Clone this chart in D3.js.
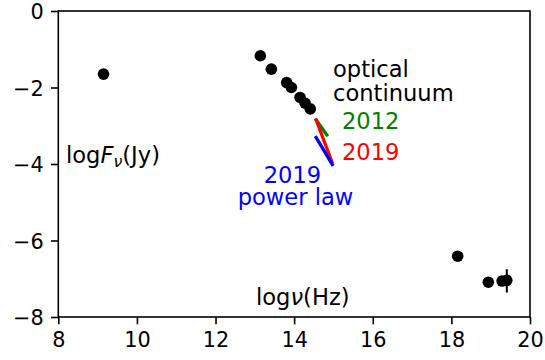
<!DOCTYPE html>
<html><head><meta charset="utf-8">
<script src="https://cdn.jsdelivr.net/npm/d3@7"></script>
<style>body{margin:0;background:#fff;} text{font-family:"DejaVu Sans",sans-serif;}</style>
</head><body>
<svg id="c" width="545" height="360"></svg>
<script>
// Data
const logNu = [9.15, 13.14, 13.42, 13.81, 13.93, 14.15, 14.28, 14.41, 18.16, 18.94, 19.29, 19.41];
const logF  = [-1.65, -1.17, -1.52, -1.87, -2.0, -2.26, -2.41, -2.56, -6.41, -7.09, -7.06, -7.04];
const errX = [19.41];
const errLo = [-7.36];
const errHi = [-6.75];
const line2012 = [[14.56, -2.85], [14.83, -3.24]];
const line2019 = [[14.56, -2.85], [14.96, -3.94]];
const linePL   = [[14.56, -3.31], [14.97, -4.01]];
const xTicks = [8, 10, 12, 14, 16, 18, 20];
const yTicks = [0, -2, -4, -6, -8];

const svg = d3.select("#c");
const L = 58.3, R = 530, T = 11, B = 317;
const x = d3.scaleLinear().domain([8, 20]).range([L, R]);
const y = d3.scaleLinear().domain([-8, 0]).range([B, T]);
const fs = 20.8, fa = 22.6, tick = 7.3, pad = 7.3;

// axes
const xAxis = d3.axisBottom(x).tickValues(xTicks).tickSize(tick).tickPadding(pad).tickFormat(d3.format("d"));
const yAxis = d3.axisLeft(y).tickValues(yTicks).tickSize(tick).tickPadding(pad).tickFormat(d => d < 0 ? "\u2212" + Math.abs(d) : String(d));
const gx = svg.append("g").attr("transform", `translate(0,${B})`).call(xAxis);
const gy = svg.append("g").attr("transform", `translate(${L},0)`).call(yAxis);
[gx, gy].forEach(g => {
  g.select(".domain").remove();
  g.selectAll("line").attr("stroke", "#000").attr("stroke-width", 1.6);
  g.selectAll("text").attr("font-size", fs).attr("fill", "#000").attr("font-family", "DejaVu Sans");
});
gx.selectAll("text").attr("dy", null).attr("y", tick + pad + 15.5).attr("dominant-baseline", null);
gy.selectAll("text").attr("dy", "0.36em");

svg.append("rect").attr("x", L).attr("y", T).attr("width", R - L).attr("height", B - T)
  .attr("fill", "none").attr("stroke", "#000").attr("stroke-width", 1.6);

// lines
const lg = d3.line().x(d => x(d[0])).y(d => y(d[1]));
[[line2012, "#008000"], [line2019, "#ff0000"], [linePL, "#0000ff"]].forEach(([d, c]) => {
  svg.append("path").attr("d", lg(d)).attr("stroke", c).attr("stroke-width", 3.3)
    .attr("fill", "none").attr("stroke-linecap", "square");
});

// error bar
svg.selectAll(".err").data(errX).enter().append("line")
  .attr("x1", d => x(d)).attr("x2", d => x(d))
  .attr("y1", (d, i) => y(errLo[i])).attr("y2", (d, i) => y(errHi[i]))
  .attr("stroke", "#000").attr("stroke-width", 2);

// points
svg.selectAll(".pt").data(logNu).enter().append("circle")
  .attr("cx", d => x(d)).attr("cy", (d, i) => y(logF[i])).attr("r", 5.8).attr("fill", "#000");

// labels
function txt(xp, yp, s, col, anchor) {
  return svg.append("text").attr("x", xp).attr("y", yp).attr("font-size", fa)
    .attr("fill", col).attr("text-anchor", anchor || "start").text(s);
}
txt(333, 77, "optical", "#000");
txt(333, 101, "continuum", "#000");
txt(342, 129, "2012", "#008000");
txt(342, 160, "2019", "#ff0000");
txt(292.5, 183, "2019", "#0000ff", "middle");
txt(295.5, 205, "power law", "#0000ff", "middle");
const t1 = svg.append("text").attr("x", 66).attr("y", 163).attr("font-size", fa).attr("fill", "#000");
t1.append("tspan").text("log");
t1.append("tspan").attr("font-style", "italic").text("F");
t1.append("tspan").attr("font-style", "italic").attr("font-size", fa * 0.7).attr("dy", 4).text("\u03bd");
t1.append("tspan").attr("dy", -4).text("(Jy)");
const t2 = svg.append("text").attr("x", 256).attr("y", 305).attr("font-size", fa).attr("fill", "#000");
t2.append("tspan").text("log");
t2.append("tspan").attr("font-style", "italic").text("\u03bd");
t2.append("tspan").text("(Hz)");
</script>
</body></html>
